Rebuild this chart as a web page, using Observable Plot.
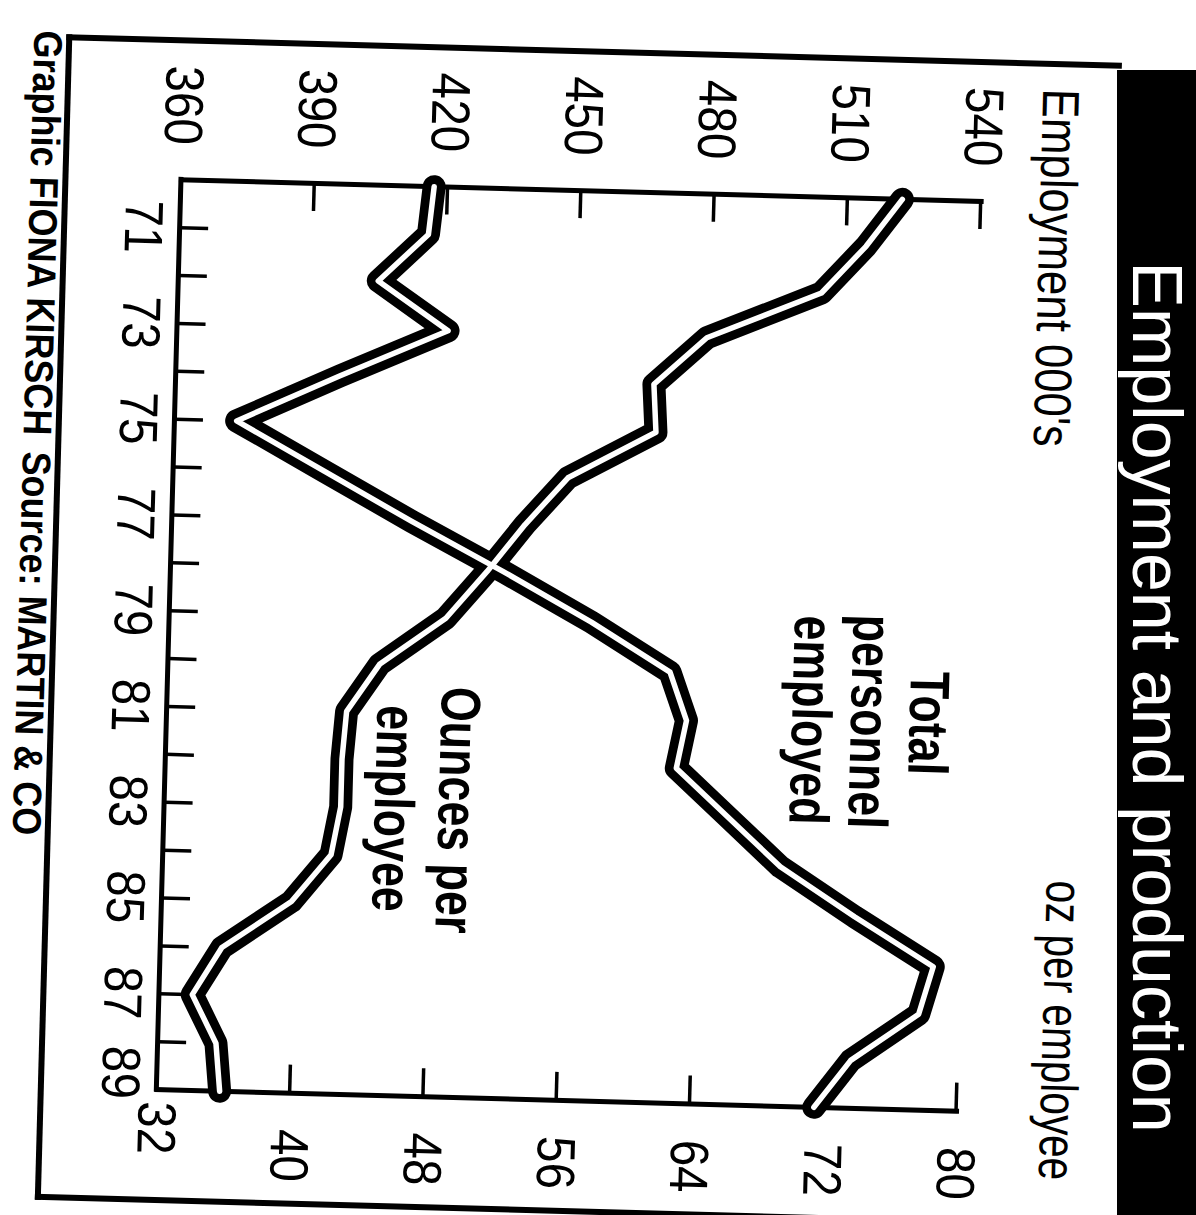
<!DOCTYPE html>
<html>
<head>
<meta charset="utf-8">
<script src="https://cdn.jsdelivr.net/npm/d3@7"></script>
<script src="https://cdn.jsdelivr.net/npm/@observablehq/plot@0.6"></script>
<style>
html, body { margin:0; padding:0; background:#fff; overflow:hidden; width:1196px; height:1215px; }
#tilt { position:absolute; left:0; top:0; width:1196px; height:1215px; transform-origin:569px 645px; transform:rotate(1.55deg); }
.rot { position:absolute; left:0; top:0; width:1215px; height:1196px; transform-origin:0 0; transform:translate(1196px,0) rotate(90deg); font-family:"Liberation Sans", Arial, sans-serif; color:#000; }
.abs { position:absolute; white-space:nowrap; line-height:1; }
#frame { left:48px; top:90px; width:1166px; height:1056px; border:6px solid #000; border-top:none; box-sizing:border-box; }
#band { left:70px; top:-60px; width:1300px; height:139px; background:#000; }
#title { left:97px; width:1200px; text-align:center; font-size:70px; color:#fff; top:4px; }
#lblLeft { left:76px; top:124px; font-size:52px; transform:scaleX(0.84); transform-origin:0 0; }
#lblRight { left:567px; width:600px; text-align:right; top:99px; font-size:52px; transform:scaleX(0.78); transform-origin:100% 0; }
#credit1 { left:45px; top:1144px; font-size:40px; font-weight:bold; transform:scaleX(0.9); transform-origin:0 0; }
#credit2 { left:466px; top:1144px; font-size:40px; font-weight:bold; transform:scaleX(0.9); transform-origin:0 0; }
#plot { position:absolute; left:0; top:0; }
</style>
</head>
<body>
<div id="tilt"><div class="rot">
  <div id="frame" class="abs"></div>
  <div id="lblLeft" class="abs">Employment 000's</div>
  <div id="lblRight" class="abs">oz per employee</div>
  <div id="credit1" class="abs">Graphic FIONA KIRSCH</div>
  <div id="credit2" class="abs">Source: MARTIN &amp; CO</div>
  <div id="plot"></div>
</div></div>
<div class="rot">
  <div id="band" class="abs"></div>
  <div id="title" class="abs">Employment and production</div>
</div>
<script>
// ---- data ----
const years = [1970, 1971, 1972, 1973, 1974, 1975, 1976, 1977, 1978, 1979,
               1980, 1981, 1982, 1983, 1984, 1985, 1986, 1987, 1988, 1989];
const employment = [417, 416, 405, 421, 397, 374, 394, 414, 435, 455,
                    473, 477, 475, 487, 499, 516, 534, 531, 516, 508];
const ouncesPerEmployee = [75.3, 73.2, 70.6, 63.8, 60.7, 60.9, 55.7, 53.2, 51.0, 48.6,
                           44.7, 42.8, 42.6, 42.6, 42.1, 39.8, 35.7, 34.0, 35.5, 35.8];
const employmentTicks = [360, 390, 420, 450, 480, 510, 540];
const ozTicks = [32, 40, 48, 56, 64, 72, 80];
const yearLabels = [1971, 1973, 1975, 1977, 1979, 1981, 1983, 1985, 1987, 1989];

// ---- dual-axis mapping (oz scale shares the employment y scale) ----
const ozToEmp = v => 360 + (v - 32) * (180 / 48);
const empToOz = v => 32 + (v - 360) * (48 / 180);

const table = years.map((year, i) => ({year, emp: employment[i], oz: ouncesPerEmployee[i]}));

const W = 1215, H = 1196, mL = 190, mR = 115, mT = 227, mB = 169;
const innerW = W - mL - mR, innerH = H - mT - mB;
const tickLen = 28;
const fs = 54;
const lastYear = yearLabels[yearLabels.length - 1];

const svg = Plot.plot({
  width: W, height: H,
  marginLeft: mL, marginRight: mR, marginTop: mT, marginBottom: mB,
  style: {background: "transparent", fontFamily: "Liberation Sans, Arial, sans-serif", color: "#000", overflow: "visible"},
  x: {domain: [1970, 1989]},
  y: {domain: [360, 540]},
  marks: [
    Plot.ruleX([1970, 1989], {stroke: "#000", strokeWidth: 5, strokeLinecap: "square"}),
    Plot.ruleY([360], {stroke: "#000", strokeWidth: 5, strokeLinecap: "square"}),
    Plot.tickX(years, {x: d => d, insetTop: innerH - tickLen, stroke: "#000", strokeWidth: 3.5}),
    Plot.tickY(employmentTicks, {y: d => d, insetRight: innerW - tickLen, stroke: "#000", strokeWidth: 3.5}),
    Plot.tickY(ozTicks.map(ozToEmp), {y: d => d, insetLeft: innerW - tickLen, stroke: "#000", strokeWidth: 3.5}),
    Plot.axisX(yearLabels.filter(d => d !== lastYear), {anchor: "bottom", tickSize: 0, tickPadding: 16, fontSize: fs, label: null,
      tickFormat: d => String(d).slice(2)}),
    Plot.axisX([lastYear], {anchor: "bottom", tickSize: 0, tickPadding: 16, fontSize: fs, label: null, dx: -16,
      tickFormat: d => String(d).slice(2)}),
    Plot.axisY(employmentTicks, {anchor: "left", tickSize: 0, tickPadding: 35, fontSize: fs, label: null,
      tickFormat: d => String(d)}),
    Plot.axisY(ozTicks.slice(1).map(ozToEmp), {anchor: "right", tickSize: 0, tickPadding: 36, fontSize: fs, label: null,
      tickFormat: d => String(Math.round(empToOz(d)))}),
    Plot.axisY([ozToEmp(ozTicks[0])], {anchor: "right", tickSize: 0, tickPadding: 12, fontSize: fs, label: null,
      tickFormat: d => String(Math.round(empToOz(d)))}),
    Plot.line(table, {x: "year", y: d => ozToEmp(d.oz), stroke: "#000", strokeWidth: 23, strokeLinejoin: "round", strokeLinecap: "round"}),
    Plot.line(table, {x: "year", y: "emp", stroke: "#000", strokeWidth: 23, strokeLinejoin: "round", strokeLinecap: "round"}),
    Plot.line(table, {x: "year", y: d => ozToEmp(d.oz), stroke: "#fff", strokeWidth: 5.5, strokeLinejoin: "round", strokeLinecap: "round"}),
    Plot.line(table, {x: "year", y: "emp", stroke: "#fff", strokeWidth: 5.5, strokeLinejoin: "round", strokeLinecap: "round"}),
    Plot.text(["Total\npersonnel\nemployed"], {x: 1980.92, y: 518.2, text: d => d, fontSize: 56, fontWeight: "bold",
      lineHeight: 1.05, textAnchor: "middle", lineAnchor: "middle", fill: "#000"}),
    Plot.text(["Ounces per\nemployee"], {x: 1983.0, y: 419.2, text: d => d, fontSize: 56, fontWeight: "bold",
      lineHeight: 1.14, textAnchor: "middle", lineAnchor: "middle", fill: "#000"})
  ]
});

// condensed lettering like the original typeface
svg.querySelectorAll("text").forEach(t => {
  const bold = (t.getAttribute("font-weight") || (t.parentNode && t.parentNode.getAttribute && t.parentNode.getAttribute("font-weight")) || "") === "bold";
  const k = bold ? 0.8 : 0.88;
  const tr = t.getAttribute("transform") || "";
  t.setAttribute("transform", (tr + ` scale(${k},1)`).trim());
});
document.getElementById("plot").appendChild(svg);
</script>
</body>
</html>
